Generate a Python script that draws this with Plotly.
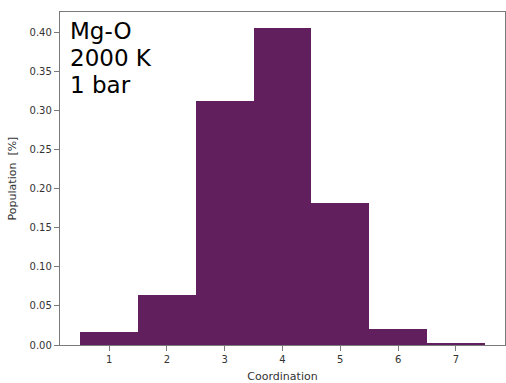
import plotly.graph_objects as go

# Coordination-number distribution for Mg-O at 2000 K, 1 bar
coordination = [1, 2, 3, 4, 5, 6, 7]
population = [0.016, 0.064, 0.312, 0.405, 0.181, 0.021, 0.003]
y_ticks = [0.00, 0.05, 0.10, 0.15, 0.20, 0.25, 0.30, 0.35, 0.40]
label_lines = ["Mg-O", "2000 K", "1 bar"]

bar_color = "#621F5E"
spine_color = "#7a7a7a"
tick_font = dict(family="DejaVu Sans", size=10, color="#333333")

fig = go.Figure(
    go.Bar(
        x=coordination,
        y=population,
        width=1.0,
        marker=dict(color=bar_color, line=dict(width=0)),
    )
)

# condition label, one annotation per line for tight line spacing
annotations = []
for i, line in enumerate(label_lines):
    annotations.append(
        dict(
            text=line,
            xref="paper", yref="paper",
            x=0.018, y=0.942 - i * 0.081,
            xanchor="left", yanchor="middle",
            align="left",
            showarrow=False,
            font=dict(family="DejaVu Sans", size=23, color="black"),
        )
    )

fig.update_layout(
    width=506,
    height=383,
    margin=dict(l=60, r=1, t=12, b=38),
    paper_bgcolor="white",
    plot_bgcolor="white",
    bargap=0,
    showlegend=False,
    annotations=annotations,
)

fig.update_xaxes(
    range=[0.15, 7.85],
    tickvals=coordination,
    ticks="outside", ticklen=5, tickcolor=spine_color,
    showline=True, linecolor=spine_color, linewidth=1.3, mirror=True,
    showgrid=False, zeroline=False,
    tickfont=tick_font,
    title=dict(text="Coordination", font=dict(family="DejaVu Sans", size=11, color="#333333"), standoff=8),
)

fig.update_yaxes(
    range=[0, 0.4256],
    tickvals=y_ticks,
    tickformat=".2f",
    ticks="outside", ticklen=5, tickcolor=spine_color,
    showline=True, linecolor=spine_color, linewidth=1.3, mirror=True,
    showgrid=False, zeroline=False,
    tickfont=tick_font,
    title=dict(text="Population  [%]", font=dict(family="DejaVu Sans", size=11, color="#333333"), standoff=10),
)

fig.write_html("out.html")
